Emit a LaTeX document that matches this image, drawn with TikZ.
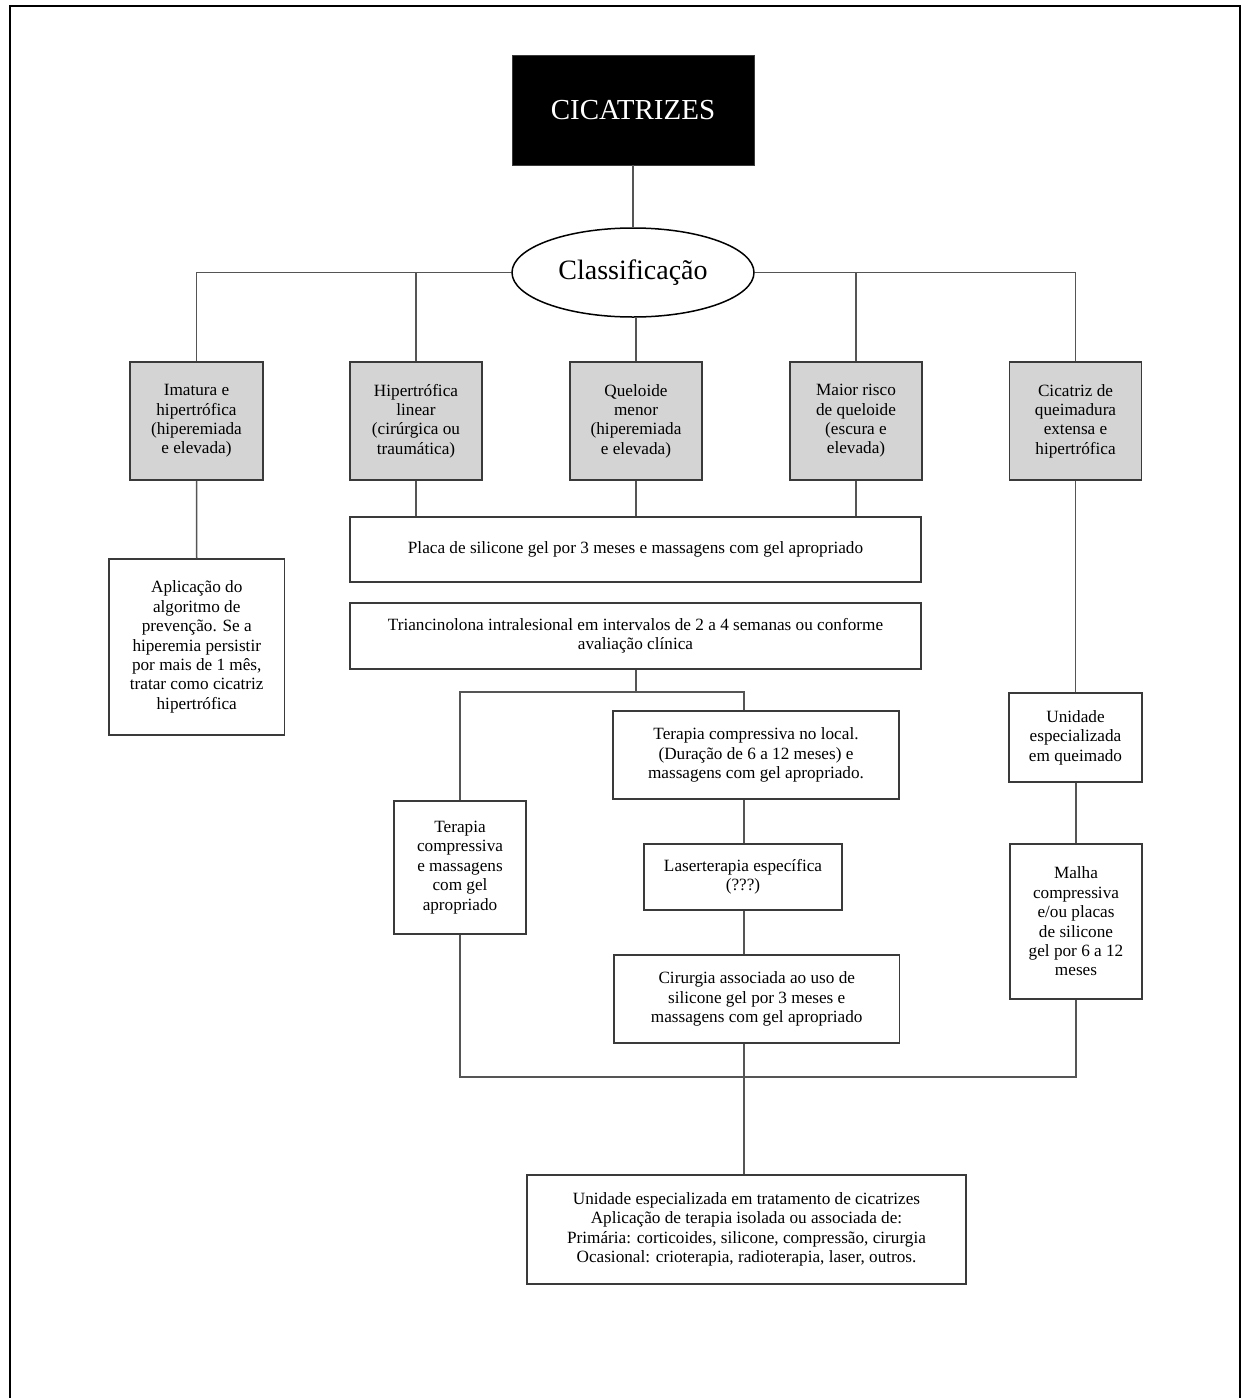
\documentclass[tikz,border=0pt]{standalone}
\usepackage{fontspec}
\setmainfont{Liberation Serif}
\usetikzlibrary{shapes.geometric}
\definecolor{grayfill}{HTML}{D4D4D4}
\definecolor{edge}{HTML}{3A3A3A}
\definecolor{conn}{HTML}{555555}
\tikzset{
  boxbase/.style={draw=edge, line width=0.75pt, align=center, inner sep=0pt,
    font=\fontsize{8.6}{9.7}\selectfont},
  graybox/.style={boxbase, fill=grayfill},
  whitebox/.style={boxbase, fill=white},
  conline/.style={draw=conn, line width=0.75pt},
}
\begin{document}
\begin{tikzpicture}[x=0.5pt, y=-0.5pt]
\useasboundingbox (0,0) rectangle (1248,1398);
% frame
\draw[line width=1pt, black] (10,1398) -- (10,6) -- (1240,6) -- (1240,1398);

% top
\node[draw=edge, fill=black, text=white, minimum width=121pt, minimum height=55pt, inner sep=0pt,
  font=\fontsize{14.5}{16}\selectfont] (cic) at (633,110) {CICATRIZES};
\node[ellipse, draw=black, line width=0.75pt, fill=white, minimum width=121pt, minimum height=44.5pt, inner sep=0pt,
  font=\fontsize{14}{16}\selectfont] (cls) at (633,272.5) {Classificação};

% gray category boxes
\node[graybox, minimum width=66.5pt, minimum height=59pt] (g1) at (196.5,421) {Imatura e\\hipertrófica\\(hiperemiada\\e elevada)};
\node[graybox, minimum width=66pt, minimum height=59pt] (g2) at (416,421) {Hipertrófica\\linear\\(cirúrgica ou\\traumática)};
\node[graybox, minimum width=66pt, minimum height=59pt] (g3) at (636,421) {Queloide\\menor\\(hiperemiada\\e elevada)};
\node[graybox, minimum width=66pt, minimum height=59pt] (g4) at (856,421) {Maior risco\\de queloide\\(escura e\\elevada)};
\node[graybox, minimum width=66pt, minimum height=59pt] (g5) at (1075.5,421) {Cicatriz de\\queimadura\\extensa e\\hipertrófica};

% white boxes
\node[whitebox, minimum width=87.75pt, minimum height=88pt] (ap) at (196.75,647) {Aplicação do\\algoritmo de\\prevenção. Se a\\hiperemia persistir\\por mais de 1 mês,\\tratar como cicatriz\\hipertrófica};
\node[whitebox, minimum width=285.5pt, minimum height=32.5pt] (placa) at (635.5,549.5) {Placa de silicone gel por 3 meses e massagens com gel apropriado};
\node[whitebox, minimum width=285.5pt, minimum height=33pt] (tri) at (635.5,636) {Triancinolona intralesional em intervalos de 2 a 4 semanas ou conforme\\avaliação clínica};
\node[whitebox, minimum width=143pt, minimum height=44pt] (tl) at (756,755) {Terapia compressiva no local.\\(Duração de 6 a 12 meses) e\\massagens com gel apropriado.};
\node[whitebox, minimum width=66pt, minimum height=66.5pt] (tc) at (460,867.5) {Terapia\\compressiva\\e massagens\\com gel\\apropriado};
\node[whitebox, minimum width=99pt, minimum height=33pt] (las) at (743,877) {Laserterapia específica\\(???)};
\node[whitebox, minimum width=142.75pt, minimum height=44pt] (cir) at (756.75,999) {Cirurgia associada ao uso de\\silicone gel por 3 meses e\\massagens com gel apropriado};
\node[whitebox, minimum width=66.5pt, minimum height=44.5pt] (uq) at (1075.5,737.5) {Unidade\\especializada\\em queimado};
\node[whitebox, minimum width=66pt, minimum height=77.5pt] (ml) at (1076,921.5) {Malha\\compressiva\\e/ou placas\\de silicone\\gel por 6 a 12\\meses};
\node[whitebox, minimum width=219.5pt, minimum height=54.5pt] (fin) at (746.5,1229.5) {Unidade especializada em tratamento de cicatrizes\\Aplicação de terapia isolada ou associada de:\\Primária: corticoides, silicone, compressão, cirurgia\\Ocasional: crioterapia, radioterapia, laser, outros.};

% junction coordinates
\coordinate (j1) at (636,692);
\coordinate (jl) at (460,692);
\coordinate (jr) at (744,692);
\coordinate (jb) at (744,1077);

% connectors
\draw[conline] (cic.south) -- (cls.north);
\draw[conline] (cls.west) -| (g1.north);
\draw[conline] (cls.east) -| (g5.north);
\draw[conline] (g2.north) -- (g2.north |- cls.west);
\draw[conline] (g4.north) -- (g4.north |- cls.west);
\draw[conline] (cls.south -| g3.north) -- (g3.north);

\draw[conline] (g1.south) -- (ap.north);
\draw[conline] (g2.south) -- (g2.south |- placa.north);
\draw[conline] (g3.south) -- (g3.south |- placa.north);
\draw[conline] (g4.south) -- (g4.south |- placa.north);
\draw[conline] (g5.south) -- (g5.south |- uq.north);

\draw[conline] (tri.south -| j1) -- (j1);
\draw[conline] (tc.north) |- (jr) -- (jr |- tl.north);
\draw[conline] (tl.south -| jr) -- (las.north -| jr);
\draw[conline] (las.south -| jr) -- (cir.north -| jr);
\draw[conline] (uq.south -| ml.north) -- (ml.north);

\draw[conline] (tc.south) |- (jb);
\draw[conline] (ml.south) |- (jb);
\draw[conline] (cir.south -| jb) -- (fin.north -| jb);
\end{tikzpicture}
\end{document}
